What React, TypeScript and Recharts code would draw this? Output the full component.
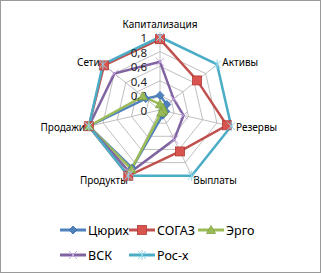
import React from 'react';
import { RadarChart, Radar, PolarGrid, PolarAngleAxis, PolarRadiusAxis, Legend } from 'recharts';

const axes = ['Капитализация', 'Активы', 'Резервы', 'Выплаты', 'Продукты', 'Продажи', 'Сети'];
const zurich = [0.2, 0.12, 0.08, 0.08, 0.88, 1, 0.25];
const sogaz = [0.97, 0.65, 0.94, 0.63, 1, 1, 0.98];
const ergo = [0.08, 0.05, 0.05, 0.04, 0.9, 1, 0.3];
const vsk = [0.66, 0.24, 0.33, 0.45, 0.95, 1, 0.8];
const rosx = [1, 1, 1, 1, 1, 1, 1];
const radiusTicks = [0, 0.2, 0.4, 0.6, 0.8, 1];

const series = [
  { key: 'zurich', name: 'Цюрих', values: zurich, color: '#4f81bd', marker: 'diamond' },
  { key: 'sogaz', name: 'СОГАЗ', values: sogaz, color: '#c0504d', marker: 'square' },
  { key: 'ergo', name: 'Эрго', values: ergo, color: '#9bbb59', marker: 'triangle' },
  { key: 'vsk', name: 'ВСК', values: vsk, color: '#8064a2', marker: 'x' },
  { key: 'rosx', name: 'Рос-х', values: rosx, color: '#4bacc6', marker: 'star' },
];

const data = axes.map((a, i) => {
  const row: any = { axis: a };
  series.forEach((s) => { row[s.key] = s.values[i]; });
  return row;
});

function Marker({ type, x, y, color }: { type: string; x: number; y: number; color: string }) {
  if (type === 'diamond') {
    return <polygon points={`${x},${y - 4} ${x + 4},${y} ${x},${y + 4} ${x - 4},${y}`} fill={color} stroke="#3a6aa8" strokeWidth={0.8} />;
  }
  if (type === 'square') {
    return <rect x={x - 4.5} y={y - 4.5} width={9} height={9} fill="#d9534f" stroke="#b03a36" strokeWidth={0.8} />;
  }
  if (type === 'triangle') {
    return <polygon points={`${x},${y - 4.5} ${x + 4.5},${y + 3.5} ${x - 4.5},${y + 3.5}`} fill={color} stroke="#7fa33f" strokeWidth={0.8} />;
  }
  if (type === 'x') {
    return (
      <g stroke="#c9a9e0" strokeWidth={1}>
        <line x1={x - 4} y1={y - 4} x2={x + 4} y2={y + 4} />
        <line x1={x - 4} y1={y + 4} x2={x + 4} y2={y - 4} />
      </g>
    );
  }
  return (
    <g stroke="#8fd3e6" strokeWidth={1}>
      <line x1={x - 4} y1={y - 4} x2={x + 4} y2={y + 4} />
      <line x1={x - 4} y1={y + 4} x2={x + 4} y2={y - 4} />
      <line x1={x} y1={y - 5} x2={x} y2={y + 5} />
    </g>
  );
}

const labelPos: Record<string, { dx: number; dy: number; anchor: string }> = {
  'Капитализация': { dx: 0, dy: -5.5, anchor: 'middle' },
  'Активы': { dx: -1, dy: 2.5, anchor: 'start' },
  'Резервы': { dx: -3, dy: -1, anchor: 'start' },
  'Выплаты': { dx: -2, dy: -3, anchor: 'start' },
  'Продукты': { dx: 3, dy: -3, anchor: 'end' },
  'Продажи': { dx: 4, dy: -1, anchor: 'end' },
  'Сети': { dx: 3, dy: 2.5, anchor: 'end' },
};

const AngleTick = (props: any) => {
  const { x, y, payload } = props;
  const p = labelPos[payload.value] || { dx: 0, dy: 0, anchor: 'middle' };
  return (
    <text x={x + p.dx} y={y + p.dy} textAnchor={p.anchor} dominantBaseline="central" fontSize={10} fill="#000" fontFamily="'Noto Sans', 'DejaVu Sans', sans-serif">
      {payload.value}
    </text>
  );
};

const RadiusTick = (props: any) => {
  const { x, y, payload } = props;
  return (
    <text x={x - 13} y={y + 0.5} textAnchor="end" dominantBaseline="central" fontSize={11.5} fill="#222" fontFamily="'Noto Sans', 'DejaVu Sans', sans-serif">
      {String(payload.value).replace('.', ',')}
    </text>
  );
};

const legendRows = [
  [{ i: 0, x: 60 }, { i: 1, x: 129 }, { i: 2, x: 198 }],
  [{ i: 3, x: 60 }, { i: 4, x: 129 }],
];

const LegendContent = () => (
  <svg width={321} height={50}>
    {legendRows.map((row, r) =>
      row.map(({ i, x }) => {
        const s = series[i];
        const y = 12 + r * 25;
        return (
          <g key={s.key}>
            <line x1={x} y1={y} x2={x + 26} y2={y} stroke={s.color} strokeWidth={3} />
            <Marker type={s.marker} x={x + 13} y={y} color={s.color} />
            <text x={x + 28} y={y} dominantBaseline="central" fontSize={12.5} fill="#000" fontFamily="'Noto Sans', 'DejaVu Sans', sans-serif">
              {s.name}
            </text>
          </g>
        );
      })
    )}
  </svg>
);

export default function App() {
  return (
    <div style={{ position: 'absolute', left: 0, top: 0, width: 321, height: 273, background: '#fff' }}>
      <RadarChart width={321} height={273} data={data} cx={160} cy={110} outerRadius={73} margin={{ top: 0, left: 0, right: 0, bottom: 0 }}>
        <PolarGrid gridType="polygon" stroke="#b0b0b0" strokeWidth={0.8} />
        <PolarAngleAxis dataKey="axis" tick={AngleTick} tickLine={false} axisLine={false} />
        <PolarRadiusAxis angle={90} domain={[0, 1]} ticks={radiusTicks as any} tickCount={6} tick={RadiusTick} axisLine={false} tickLine={false} />
        {series.map((s) => (
          <Radar
            key={s.key}
            name={s.name}
            dataKey={s.key}
            stroke={s.color}
            strokeWidth={2.5}
            fill="none"
            fillOpacity={0}
            isAnimationActive={false}
            dot={(p: any) => <Marker key={`${s.key}-${p.index}`} type={s.marker} x={p.cx} y={p.cy} color={s.color} />}
          />
        ))}
        <Legend content={LegendContent} wrapperStyle={{ left: 0, top: 218, width: 321, height: 50 }} />
      </RadarChart>
      <div style={{ position: 'absolute', left: 0, top: 0, width: 321, height: 273, border: '1px solid #9a9a9a', boxSizing: 'border-box', pointerEvents: 'none' }} />
    </div>
  );
}
